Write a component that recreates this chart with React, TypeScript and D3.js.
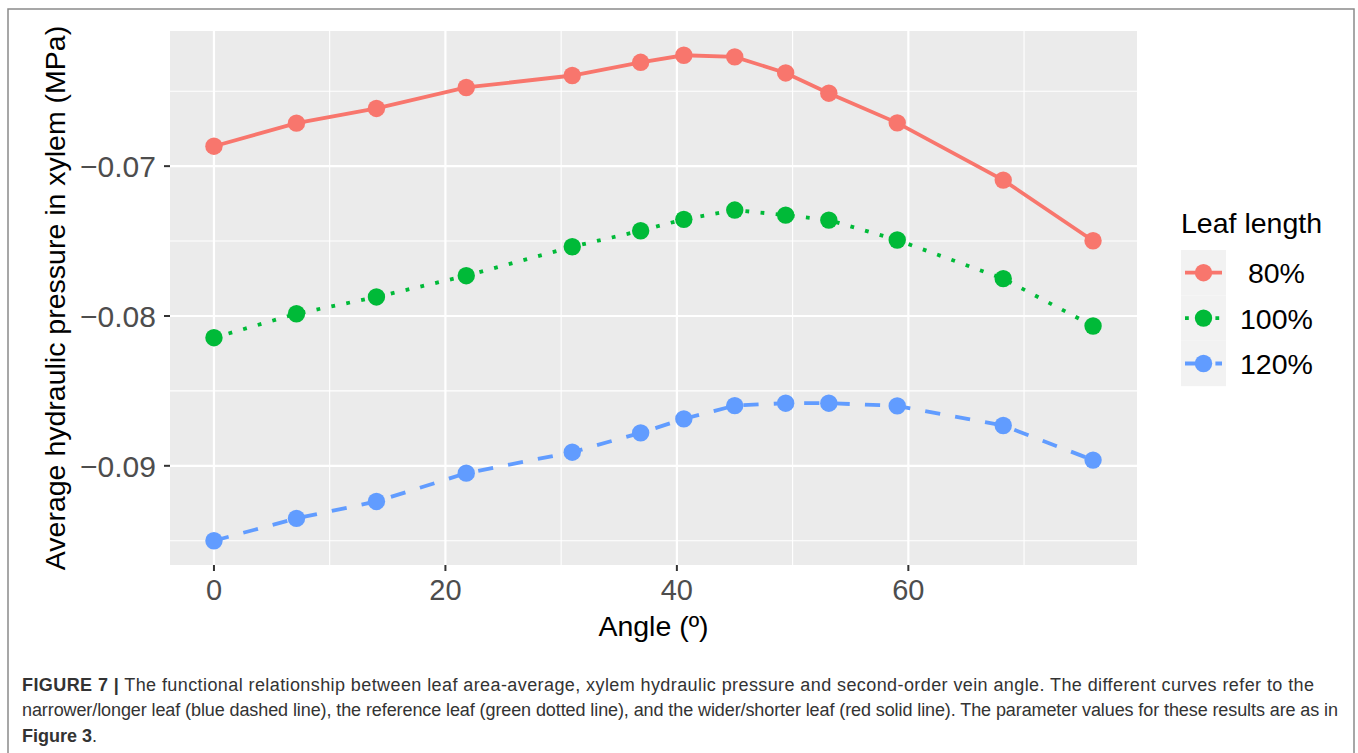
import * as d3 from 'd3';

// vein angle (degrees)
const angles = [0, 7.13, 14.04, 21.8, 30.96, 36.87, 40.6, 45, 49.4, 53.13, 59.04, 68.2, 75.96];

// average hydraulic pressure in xylem (MPa) per leaf length
const leaf80 = [-0.06867, -0.06713, -0.06615, -0.06475, -0.06395, -0.06307, -0.0626, -0.06271, -0.06378, -0.06513, -0.06711, -0.07093, -0.07498];
const leaf100 = [-0.08145, -0.07985, -0.07873, -0.07731, -0.07538, -0.07431, -0.07355, -0.07293, -0.07327, -0.0736, -0.07493, -0.07751, -0.08067];
const leaf120 = [-0.095, -0.09351, -0.09238, -0.09049, -0.08909, -0.0878, -0.08687, -0.08598, -0.08582, -0.08582, -0.086, -0.08731, -0.08962];

const seriesNames = [' 80%', '100%', '120%'];
const seriesColors = ['#F8766D', '#00BA38', '#619CFF'];
const seriesDash = [null, '3.8 11.4', '15.2 15.2'];

const xMajor = [0, 20, 40, 60];
const xMinor = [10, 30, 50, 70];
const yMajor = [-0.07, -0.08, -0.09];
const yMinor = [-0.065, -0.075, -0.085, -0.095];

const font = '"Liberation Sans", Arial, Helvetica, sans-serif';

const panel = { left: 170, right: 1137, top: 31, bottom: 565 };

function expand([lo, hi]: number[]) {
  const pad = (hi - lo) * 0.05;
  return [lo - pad, hi + pad];
}

export default function App() {
  const allSeries = [leaf80, leaf100, leaf120];

  const x = d3
    .scaleLinear()
    .domain(expand(d3.extent(angles) as number[]))
    .range([panel.left, panel.right]);

  const y = d3
    .scaleLinear()
    .domain(expand(d3.extent(allSeries.flat()) as number[]))
    .range([panel.bottom, panel.top]);

  const line = d3
    .line<number>()
    .x((_, i) => x(angles[i]))
    .y((d) => y(d));

  const fmt = (v: number) => d3.format('.2f')(v).replace('-', '\u2212');

  const legendX = 1181;
  const legendTop = 250;
  const keyH = 45.4;

  return (
    <svg
      width={1358}
      height={753}
      style={{ position: 'absolute', left: 0, top: 0, display: 'block', background: '#fff' }}
      fontFamily={font}
    >
      {/* figure frame */}
      <rect x={8} y={9} width={1346} height={770} fill="none" stroke="#8a8a8a" strokeWidth={1.5} />

      {/* panel */}
      <rect
        x={panel.left}
        y={panel.top}
        width={panel.right - panel.left}
        height={panel.bottom - panel.top}
        fill="#EBEBEB"
      />
      {yMinor.map((v) => (
        <line key={'ym' + v} x1={panel.left} x2={panel.right} y1={y(v)} y2={y(v)} stroke="#fff" strokeWidth={1.1} />
      ))}
      {xMinor.map((v) => (
        <line key={'xm' + v} x1={x(v)} x2={x(v)} y1={panel.top} y2={panel.bottom} stroke="#fff" strokeWidth={1.1} />
      ))}
      {yMajor.map((v) => (
        <line key={'yM' + v} x1={panel.left} x2={panel.right} y1={y(v)} y2={y(v)} stroke="#fff" strokeWidth={2.2} />
      ))}
      {xMajor.map((v) => (
        <line key={'xM' + v} x1={x(v)} x2={x(v)} y1={panel.top} y2={panel.bottom} stroke="#fff" strokeWidth={2.2} />
      ))}

      {/* series */}
      {allSeries.map((s, i) => (
        <g key={seriesNames[i]}>
          <path
            d={line(s) || ''}
            fill="none"
            stroke={seriesColors[i]}
            strokeWidth={3.8}
            strokeDasharray={seriesDash[i] || undefined}
            strokeLinecap="butt"
          />
          {s.map((v, j) => (
            <circle key={j} cx={x(angles[j])} cy={y(v)} r={8.7} fill={seriesColors[i]} />
          ))}
        </g>
      ))}

      {/* y axis */}
      {yMajor.map((v) => (
        <g key={'yt' + v}>
          <line x1={panel.left - 6} x2={panel.left} y1={y(v)} y2={y(v)} stroke="#333" strokeWidth={2} />
          <text x={panel.left - 14} y={y(v)} dy="0.36em" textAnchor="end" fontSize={30} fill="#4D4D4D">
            {fmt(v)}
          </text>
        </g>
      ))}

      {/* x axis */}
      {xMajor.map((v) => (
        <g key={'xt' + v}>
          <line x1={x(v)} x2={x(v)} y1={panel.bottom} y2={panel.bottom + 6} stroke="#333" strokeWidth={2} />
          <text x={x(v)} y={600} textAnchor="middle" fontSize={29} fill="#4D4D4D">
            {v}
          </text>
        </g>
      ))}

      <text x={(panel.left + panel.right) / 2} y={636} textAnchor="middle" fontSize={28.5} fill="#000">
        Angle (º)
      </text>
      <text
        transform={`translate(65, ${(panel.top + panel.bottom) / 2}) rotate(-90)`}
        textAnchor="middle"
        fontSize={28.5}
        fill="#000"
      >
        Average hydraulic pressure in xylem (MPa)
      </text>

      {/* legend */}
      <text x={legendX} y={233} fontSize={28.5} fill="#000">
        Leaf length
      </text>
      {seriesNames.map((name, i) => {
        const cy = legendTop + keyH * i + keyH / 2;
        return (
          <g key={'lg' + name}>
            <rect x={legendX} y={legendTop + keyH * i} width={45} height={keyH} fill="#F2F2F2" />
            <line
              x1={legendX + 4}
              x2={legendX + 41}
              y1={cy}
              y2={cy}
              stroke={seriesColors[i]}
              strokeWidth={3.8}
              strokeDasharray={seriesDash[i] || undefined}
            />
            <circle cx={legendX + 22.5} cy={cy} r={8.7} fill={seriesColors[i]} />
            <text x={1240} y={cy + 10.4} fontSize={28.5} fill="#000" style={{ whiteSpace: 'pre' }}>
              {name}
            </text>
          </g>
        );
      })}

      {/* caption */}
      <g fontSize={18} fill="#333">
        <text x={22} y={691} textLength={1292} lengthAdjust="spacing">
          <tspan fontWeight="bold">FIGURE 7 |</tspan>
          {' The functional relationship between leaf area-average, xylem hydraulic pressure and second-order vein angle. The different curves refer to the'}
        </text>
        <text x={22} y={716} textLength={1316} lengthAdjust="spacing">
          narrower/longer leaf (blue dashed line), the reference leaf (green dotted line), and the wider/shorter leaf (red solid line). The parameter values for these results are as in
        </text>
        <text x={22} y={742}>
          <tspan fontWeight="bold">Figure 3</tspan>.
        </text>
      </g>
    </svg>
  );
}
